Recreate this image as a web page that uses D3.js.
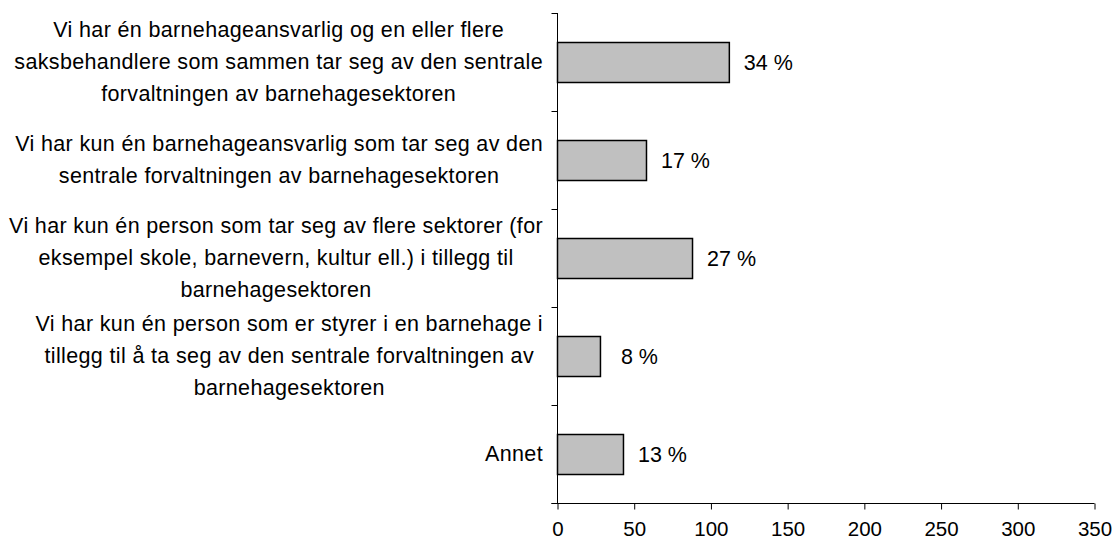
<!DOCTYPE html>
<html>
<head>
<meta charset="utf-8">
<script src="https://cdn.jsdelivr.net/npm/d3@7"></script>
<style>
  html, body { margin: 0; padding: 0; background: #fff; }
  svg { display: block; }
  text { font-family: "Liberation Sans", Arial, sans-serif; fill: #000; }
</style>
</head>
<body>
<svg id="chart" width="1113" height="543"></svg>
<script>
// Data
const categories = [
  ["Vi har én barnehageansvarlig og en eller flere",
   "saksbehandlere som sammen tar seg av den sentrale",
   "forvaltningen av barnehagesektoren"],
  ["Vi har kun én barnehageansvarlig som tar seg av den",
   "sentrale forvaltningen av barnehagesektoren"],
  ["Vi har kun én person som tar seg av flere sektorer (for",
   "eksempel skole, barnevern, kultur ell.) i tillegg til",
   "barnehagesektoren"],
  ["Vi har kun én person som er styrer i en barnehage i",
   "tillegg til å ta seg av den sentrale forvaltningen av",
   "barnehagesektoren"],
  ["Annet"]
];
const values = [112, 58, 88, 28, 43];
const valueLabels = ["34 %", "17 %", "27 %", "8 %", "13 %"];
const xTicks = [0, 50, 100, 150, 200, 250, 300, 350];

const svg = d3.select("#chart");
const margin = { left: 557.5, top: 13 };
const plotBottom = 503;

const x = d3.scaleLinear().domain([0, 350]).range([margin.left, 1094.5]);
const y = d3.scaleBand().domain(d3.range(categories.length))
  .range([margin.top, plotBottom]).paddingInner(0.59).paddingOuter(0.295);

const catFont = 21.5;
const valFont = 21.5;
const tickFont = 20.5;

// Bars
svg.append("g").selectAll("rect").data(values).join("rect")
  .attr("x", x(0))
  .attr("y", (d, i) => Math.round(y(i)) + 0.5)
  .attr("width", d => x(d) - x(0))
  .attr("height", Math.round(y.bandwidth()))
  .attr("fill", "#c0c0c0")
  .attr("stroke", "#000")
  .attr("stroke-width", 1.5);

// Value labels
svg.append("g").selectAll("text").data(values).join("text")
  .attr("x", d => x(d) + 39)
  .attr("y", (d, i) => y(i) + y.bandwidth() / 2)
  .attr("dy", "0.35em")
  .attr("text-anchor", "middle")
  .attr("font-size", valFont)
  .text((d, i) => valueLabels[i]);

// Y axis (category boundaries)
const step = (plotBottom - margin.top) / categories.length;
const yAxisG = svg.append("g");
yAxisG.append("line")
  .attr("x1", margin.left).attr("x2", margin.left)
  .attr("y1", margin.top).attr("y2", plotBottom)
  .attr("stroke", "#000");
yAxisG.selectAll("line.tick").data(d3.range(categories.length + 1)).join("line")
  .attr("class", "tick")
  .attr("x1", margin.left - 6).attr("x2", margin.left)
  .attr("y1", i => Math.round(margin.top + i * step) + 0.5)
  .attr("y2", i => Math.round(margin.top + i * step) + 0.5)
  .attr("stroke", "#000");

// Category labels: lines centered within a box right-aligned to the axis
const labelRight = 543;
const lineH = 32;
categories.forEach((lines, i) => {
  const g = svg.append("g");
  const cy = y(i) + y.bandwidth() / 2;
  const texts = lines.map((ln, j) => g.append("text")
    .attr("font-size", catFont)
    .attr("letter-spacing", 0.35)
    .attr("y", cy + (j - (lines.length - 1) / 2) * lineH - 1)
    .attr("dy", "0.35em")
    .attr("text-anchor", "middle")
    .text(ln));
  const maxW = d3.max(texts, t => t.node().getBBox().width);
  texts.forEach(t => t.attr("x", labelRight - maxW / 2));
});

// X axis
const xAxis = d3.axisBottom(x).tickValues(xTicks).tickSize(6).tickSizeOuter(0).tickPadding(12);
const xg = svg.append("g").attr("transform", `translate(0,${plotBottom + 0.5})`).call(xAxis);
xg.select(".domain").attr("d", `M${margin.left - 6},0H${x(350)}`).attr("stroke", "#000");
xg.selectAll(".tick line").attr("stroke", "#000");
xg.selectAll(".tick text").attr("font-size", tickFont)
  .attr("font-family", '"Liberation Sans", Arial, sans-serif').attr("fill", "#000");
</script>
</body>
</html>
